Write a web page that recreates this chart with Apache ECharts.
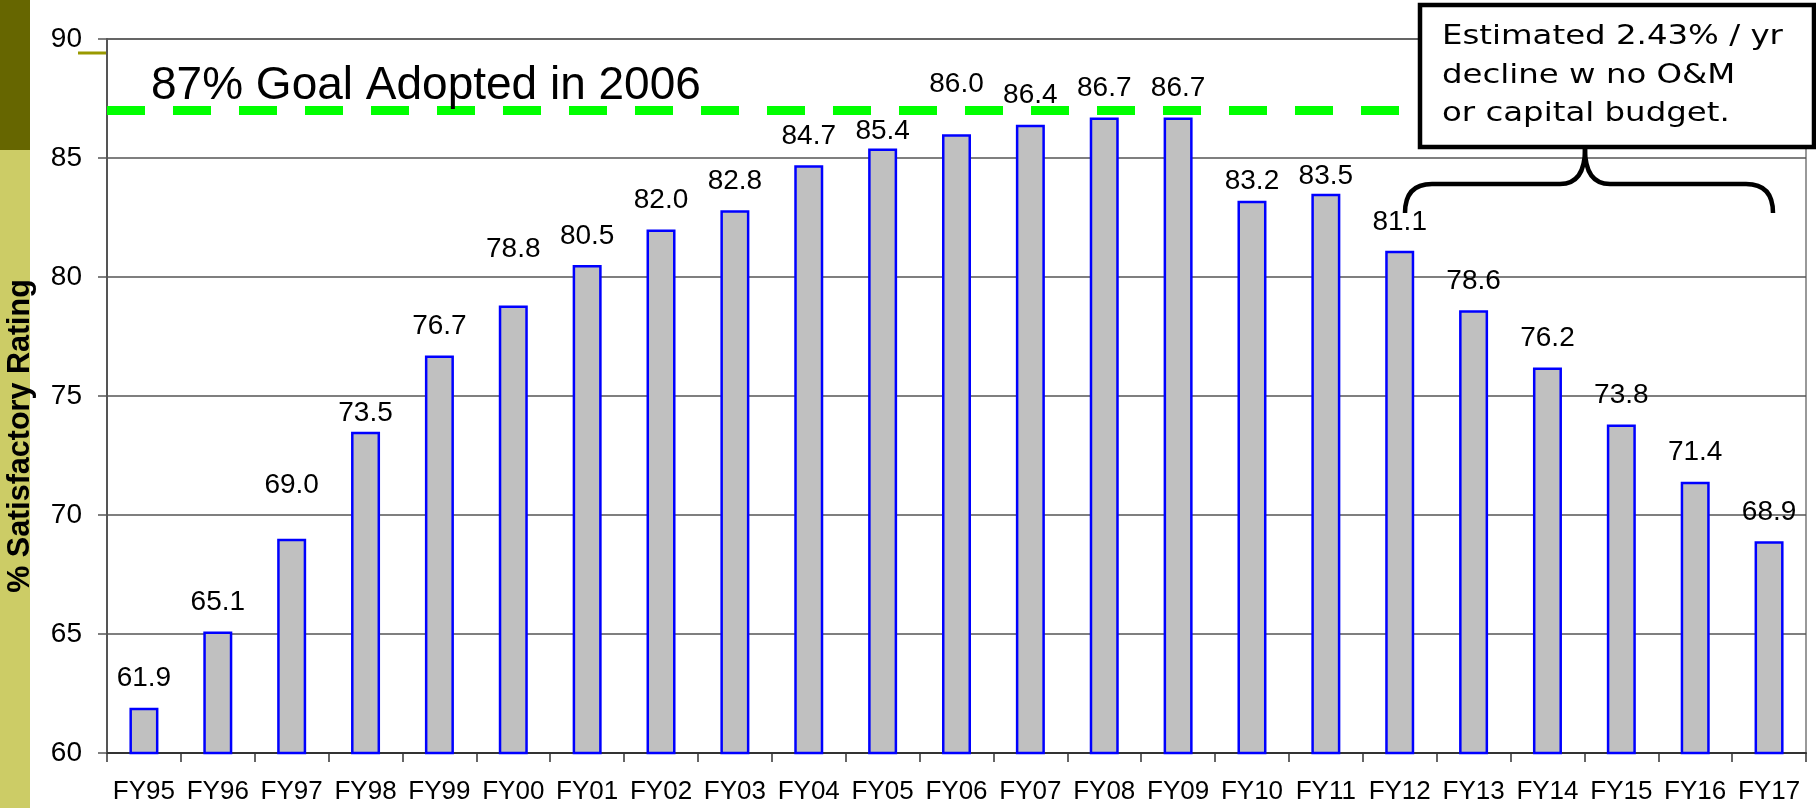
<!DOCTYPE html>
<html>
<head>
<meta charset="utf-8">
<script src="https://cdn.jsdelivr.net/npm/echarts@6/dist/echarts.min.js"></script>
<style>
  html, body { margin: 0; padding: 0; background: #fff; }
  #main { width: 1816px; height: 808px; }
</style>
</head>
<body>
<div id="main"></div>
<script>
// data
var categories = ['FY95', 'FY96', 'FY97', 'FY98', 'FY99', 'FY00', 'FY01', 'FY02', 'FY03', 'FY04', 'FY05', 'FY06',
  'FY07', 'FY08', 'FY09', 'FY10', 'FY11', 'FY12', 'FY13', 'FY14', 'FY15', 'FY16', 'FY17']
var ratings = [61.9, 65.1, 69.0, 73.5, 76.7, 78.8, 80.5, 82.0, 82.8, 84.7, 85.4, 86.0,
  86.4, 86.7, 86.7, 83.2, 83.5, 81.1, 78.6, 76.2, 73.8, 71.4, 68.9]
var goal = 87
var yMin = 60
var yMax = 90
var yStep = 5

var goalText = '87% Goal Adopted in 2006'
var noteLines = ['Estimated 2.43% / yr', 'decline w no O&M', 'or capital budget.']
var yTitle = '% Satisfactory Rating'

// labels were hand-placed in the original, some sit higher than others
var labelLift = { 2: 55, 3: 19, 5: 57, 10: 18, 11: 51, 15: 21, 16: 18 }

var chart = echarts.init(document.getElementById('main'))

// brace under the note box
var braceStyle = { fill: null, stroke: '#000', lineWidth: 4.5 }
function braceCurve (x1, y1, cx, cy, x2, y2) {
  return { type: 'bezierCurve', z: 60, shape: { x1: x1, y1: y1, cpx1: cx, cpy1: cy, x2: x2, y2: y2 }, style: braceStyle }
}
function braceLine (x1, y1, x2, y2) {
  return { type: 'line', z: 60, shape: { x1: x1, y1: y1, x2: x2, y2: y2 }, style: braceStyle }
}
function noteText (i, y) {
  return {
    type: 'text', z: 61, x: 1442, y: y, scaleX: 1.2,
    style: { text: noteLines[i], font: '27px "DejaVu Sans"', fill: '#000', align: 'left', verticalAlign: 'middle' }
  }
}

var option = {
  backgroundColor: '#fff',
  animation: false,
  textStyle: { fontFamily: 'Liberation Sans' },
  grid: {
    left: 107,
    right: 10,
    top: 39,
    bottom: 55,
    show: true,
    borderColor: '#999',
    borderWidth: 2
  },
  xAxis: {
    type: 'category',
    data: categories,
    axisLine: { lineStyle: { color: '#333', width: 2 } },
    axisTick: { show: true, length: 9, lineStyle: { color: '#333', width: 1.5 } },
    axisLabel: { interval: 0, color: '#000', fontSize: 26, margin: 26, fontFamily: 'Liberation Sans' }
  },
  yAxis: {
    type: 'value',
    min: yMin,
    max: yMax,
    interval: yStep,
    axisLine: { show: true, lineStyle: { color: '#555', width: 2 } },
    axisTick: { show: true, length: 9, lineStyle: { color: '#555', width: 1.5 } },
    axisLabel: { color: '#000', fontSize: 28, margin: 25, fontFamily: 'Liberation Sans' },
    splitLine: { lineStyle: { color: '#555', width: 1.5 } }
  },
  series: [{
    type: 'bar',
    barWidth: 29,
    data: ratings.map(function (v, i) {
      var lift = labelLift[i] || 30
      return { value: v, label: { distance: lift - 15 } }
    }),
    itemStyle: { color: '#c0c0c0', borderColor: '#0000ff', borderWidth: 2.5 },
    label: {
      show: true,
      position: 'top',
      color: '#000',
      fontSize: 28,
      fontFamily: 'Liberation Sans',
      formatter: function (p) { return p.value.toFixed(1) }
    },
    markLine: {
      silent: true,
      symbol: 'none',
      label: { show: false },
      lineStyle: { color: '#00ff00', width: 9, type: [38, 28], opacity: 1 },
      data: [{ yAxis: goal }]
    }
  }],
  graphic: [
    // olive strip on the left edge of the slide
    { type: 'rect', z: 1, shape: { x: 0, y: 0, width: 30, height: 150 }, style: { fill: '#666600' } },
    { type: 'rect', z: 1, shape: { x: 0, y: 150, width: 30, height: 658 }, style: { fill: '#cccc66' } },
    { type: 'line', z: 1, shape: { x1: 78, y1: 53, x2: 106, y2: 53 }, style: { stroke: '#999900', lineWidth: 3 } },
    {
      type: 'text', z: 50, x: 21, y: 436, rotation: Math.PI / 2,
      style: { text: yTitle, font: 'bold 30.5px "Liberation Sans"', fill: '#000', align: 'center', verticalAlign: 'middle' }
    },
    {
      type: 'text', z: 50, x: 151, y: 86,
      style: { text: goalText, font: '46px "Liberation Sans"', fill: '#000', align: 'left', verticalAlign: 'middle' }
    },
    // the note box
    {
      type: 'rect', z: 60,
      shape: { x: 1420, y: 5, width: 394, height: 142 },
      style: { fill: '#fff', stroke: '#000', lineWidth: 4.5 }
    },
    noteText(0, 37),
    noteText(1, 76),
    noteText(2, 114),
    braceCurve(1405, 213, 1405, 184, 1432, 184),
    braceLine(1432, 184, 1560, 184),
    braceCurve(1560, 184, 1585, 184, 1585, 149),
    braceCurve(1585, 149, 1585, 184, 1610, 184),
    braceLine(1610, 184, 1746, 184),
    braceCurve(1746, 184, 1773, 184, 1773, 213)
  ]
}

chart.setOption(option)
</script>
</body>
</html>
